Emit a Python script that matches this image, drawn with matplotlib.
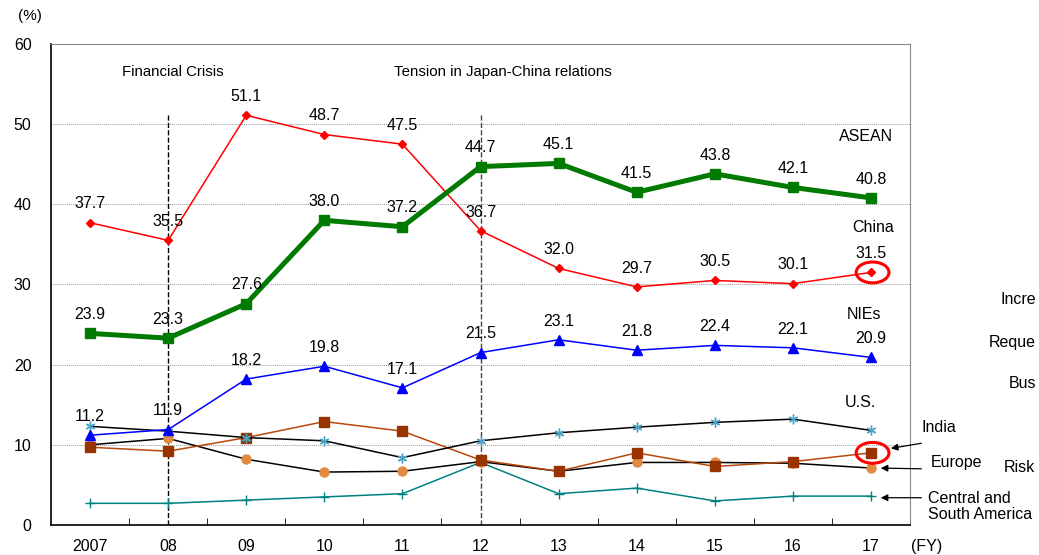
import numpy as np
import matplotlib
matplotlib.use('Agg')
import matplotlib.pyplot as plt
from matplotlib.patches import Ellipse

plt.rcParams['font.family'] = ['Liberation Sans', 'DejaVu Sans']

########  data  ########
years = ['2007', '08', '09', '10', '11', '12', '13', '14', '15', '16', '17']
asean = [23.9, 23.3, 27.6, 38.0, 37.2, 44.7, 45.1, 41.5, 43.8, 42.1, 40.8]
china = [37.7, 35.5, 51.1, 48.7, 47.5, 36.7, 32.0, 29.7, 30.5, 30.1, 31.5]
nies = [11.2, 11.9, 18.2, 19.8, 17.1, 21.5, 23.1, 21.8, 22.4, 22.1, 20.9]
us = [12.3, 11.7, 10.9, 10.5, 8.4, 10.5, 11.5, 12.2, 12.8, 13.2, 11.8]
india = [9.7, 9.2, 10.9, 12.9, 11.7, 8.1, 6.7, 9.0, 7.3, 7.9, 9.0]
europe = [10.0, 10.8, 8.2, 6.6, 6.7, 7.9, 6.7, 7.8, 7.8, 7.7, 7.1]
latam = [2.7, 2.7, 3.1, 3.5, 3.9, 7.8, 3.9, 4.6, 3.0, 3.6, 3.6]

x = np.arange(len(years))
fs = 11.5

fig = plt.figure(figsize=(10.39, 5.55), dpi=100)
ax = fig.add_axes([0.0491, 0.0541, 0.8268, 0.8667])

# grid
for g in [10, 20, 30, 40, 50]:
    ax.axhline(g, color='#999999', linestyle=(0, (1, 1)), linewidth=0.7, zorder=0)

# event lines
ax.vlines(1, 0, 51.1, colors='black', linestyles='--', linewidth=1.0, zorder=1)
ax.vlines(5, 0, 51.1, colors='#444444', linestyles='--', linewidth=1.0, zorder=1)

ax.plot(x, latam, color='#008080', marker='+', markersize=7, linewidth=1.1, zorder=2)
ax.plot(x, europe, color='black', marker='o', markersize=6.5, markerfacecolor='#e08a42',
        markeredgecolor='#e08a42', linewidth=1.1, zorder=3)
ax.plot(x, india, color='#b8480c', marker='s', markersize=6.5, markerfacecolor='#993300',
        markeredgecolor='#993300', linewidth=1.1, zorder=3)
ax.plot(x, us, color='black', marker=(6, 2, 0), markersize=7, markeredgecolor='#4ba3c3',
        linewidth=1.1, zorder=3)
ax.plot(x, nies, color='#0000ff', marker='^', markersize=6.5, linewidth=1.1, zorder=4)
ax.plot(x, china, color='#ff0000', marker='D', markersize=4.5, linewidth=1.1, zorder=4)
ax.plot(x, asean, color='#007a00', marker='s', markersize=6.5, linewidth=3.6, zorder=5)

# value labels
for vals in [asean, china, nies]:
    for i, v in enumerate(vals):
        ax.annotate('%.1f' % v, (i, v), xytext=(0, 13.5), textcoords='offset points',
                    ha='center', va='center', fontsize=fs, zorder=6)

# series names
ax.text(9.94, 48.4, 'ASEAN', fontsize=fs, ha='center', va='center')
ax.text(10.03, 37.1, 'China', fontsize=fs, ha='center', va='center')
ax.text(9.91, 26.25, 'NIEs', fontsize=fs, ha='center', va='center')
ax.text(9.86, 15.3, 'U.S.', fontsize=fs, ha='center', va='center')

ax.text(1.06, 56.5, 'Financial Crisis', fontsize=10.8, ha='center', va='center')
ax.text(5.28, 56.5, 'Tension in Japan-China relations', fontsize=10.8, ha='center', va='center')

# red circles
for yy in [china[-1], india[-1]]:
    ax.add_patch(Ellipse((10.02, yy), 0.42, 2.6, fill=False, edgecolor='#ff0000',
                         linewidth=2.2, zorder=7))

# outside labels with arrows
arrow = dict(arrowstyle='-|>', color='black', lw=0.9, mutation_scale=10)
ax.text(10.65, 12.1, 'India', fontsize=fs, ha='left', va='center')
ax.annotate('', xy=(10.22, 9.5), xytext=(10.68, 10.25), arrowprops=arrow,
            annotation_clip=False)
ax.text(10.76, 7.75, 'Europe', fontsize=fs, ha='left', va='center')
ax.annotate('', xy=(10.09, 7.1), xytext=(10.68, 7.0), arrowprops=arrow,
            annotation_clip=False)
ax.text(10.73, 2.35, 'Central and\nSouth America', fontsize=fs, ha='left', va='center',
        linespacing=1.1)
ax.annotate('', xy=(10.09, 3.4), xytext=(10.68, 3.4), arrowprops=arrow,
            annotation_clip=False)

# text cut by the right edge in the original
fig.text(1000 / 1039, 1 - 300 / 555, 'Incre', fontsize=fs, va='center')
fig.text(989 / 1039, 1 - 342 / 555, 'Reque', fontsize=fs, va='center')
fig.text(1009 / 1039, 1 - 384 / 555, 'Bus', fontsize=fs, va='center')
fig.text(1004 / 1039, 1 - 468 / 555, 'Risk', fontsize=fs, va='center')

fig.text(30 / 1039, 1 - 16 / 555, '(%)', fontsize=11, ha='center', va='center')
fig.text(927 / 1039, 1 - 546 / 555, '(FY)', fontsize=fs, ha='center', va='center')

ax.set_xlim(-0.5, 10.5)
ax.set_ylim(0, 60)
ax.set_yticks([0, 10, 20, 30, 40, 50, 60])
ax.set_xticks(x)
ax.set_xticklabels(years)
ax.set_xticks(np.arange(0.5, 10, 1), minor=True)
ax.tick_params(axis='x', which='major', length=0, labelsize=fs, pad=10)
ax.tick_params(axis='x', which='minor', direction='in', length=5)
ax.tick_params(axis='y', length=0, labelsize=fs, pad=14)
for s in ['top', 'right']:
    ax.spines[s].set_color('#888888')
for s in ['left', 'bottom']:
    ax.spines[s].set_color('black')
    ax.spines[s].set_linewidth(1.2)

fig.savefig('out.png', dpi=100)
